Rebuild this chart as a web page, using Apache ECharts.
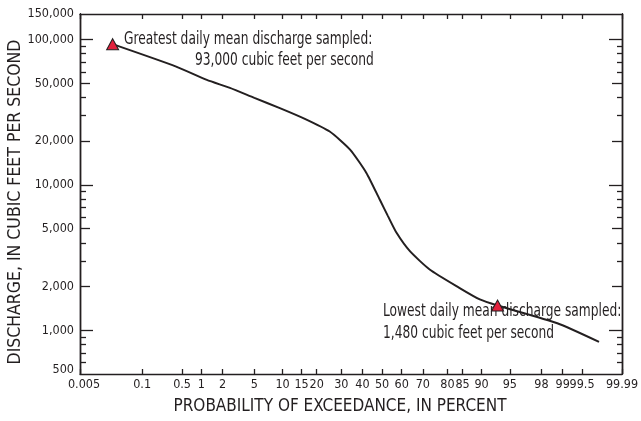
<!DOCTYPE html>
<html>
<head>
<meta charset="utf-8">
<script src="https://cdn.jsdelivr.net/npm/echarts@6/dist/echarts.min.js"></script>
<style>html,body{margin:0;padding:0;background:#fff;}#chart{width:641px;height:421px;}</style>
</head>
<body>
<div id="chart"></div>
<script>
// ---- data ----
const exceedancePct = [0.026, 0.40, 1.2, 2.5, 5, 9.4, 16, 25, 34, 42, 48.8, 52.9, 57.4, 64, 73, 84, 89.6, 93.15, 98.8, 99.74];
const dischargeCfs  = [93000, 65200, 52800, 46500, 39700, 33800, 28500, 23300, 17500, 12100, 7930, 6150, 4680, 3500, 2620, 1960, 1630, 1480, 1117, 831];
const extremePct = [0.026, 93.15];
const extremeCfs = [93000, 1480];

const xTickPct    = [0.005, 0.1, 0.5, 1, 2, 5, 10, 15, 20, 30, 40, 50, 60, 70, 80, 85, 90, 95, 98, 99, 99.5, 99.9];
const xTickLabels = ['0.005','0.1','0.5','1','2','5','10','15','20','30','40','50','60','70','80','85','90','95','98','99','99.5','99.99'];

const yLabelValues = [500, 1000, 2000, 5000, 10000, 20000, 50000, 100000, 150000];
const yDecadeTicks = [1000, 10000, 100000];
const yMidTicks    = [2000, 5000, 20000, 50000];
const yMinorTicks  = [600, 700, 800, 900, 3000, 4000, 6000, 7000, 8000, 9000, 30000, 40000, 60000, 70000, 80000, 90000];

// ---- scale transforms (normal-probability x, log10 y) ----
function normInv(p){
  const a=[-3.969683028665376e+01,2.209460984245205e+02,-2.759285104469687e+02,1.383577518672690e+02,-3.066479806614716e+01,2.506628277459239e+00];
  const b=[-5.447609879822406e+01,1.615858368580409e+02,-1.556989798598866e+02,6.680131188771972e+01,-1.328068155288572e+01];
  const c=[-7.784894002430293e-03,-3.223964580411365e-01,-2.400758277161838e+00,-2.549732539343734e+00,4.374664141464968e+00,2.938163982698783e+00];
  const d=[7.784695709041462e-03,3.224671290700398e-01,2.445134137142996e+00,3.754408661907416e+00];
  const pl=0.02425, ph=1-pl; let q,r;
  if(p<pl){q=Math.sqrt(-2*Math.log(p));return (((((c[0]*q+c[1])*q+c[2])*q+c[3])*q+c[4])*q+c[5])/((((d[0]*q+d[1])*q+d[2])*q+d[3])*q+1);}
  if(p<=ph){q=p-0.5;r=q*q;return (((((a[0]*r+a[1])*r+a[2])*r+a[3])*r+a[4])*r+a[5])*q/(((((b[0]*r+b[1])*r+b[2])*r+b[3])*r+b[4])*r+1);}
  q=Math.sqrt(-2*Math.log(1-p));return -(((((c[0]*q+c[1])*q+c[2])*q+c[3])*q+c[4])*q+c[5])/((((d[0]*q+d[1])*q+d[2])*q+d[3])*q+1);
}
const zx = pct => normInv(pct/100);
const ly = v => Math.log10(v);

const FONT = "'DejaVu Sans Condensed','Liberation Sans Narrow',sans-serif";
const INK = '#231f20';

const xMin = zx(xTickPct[0]);
const xMax = zx(xTickPct[xTickPct.length-1]);
const yMin = ly(yLabelValues[0]);
const yMax = ly(yLabelValues[yLabelValues.length-1]);

const xTickVals = xTickPct.map(zx);
function xLabel(v){
  let best=0, bd=Infinity;
  xTickVals.forEach((t,i)=>{const dd=Math.abs(t-v); if(dd<bd){bd=dd;best=i;}});
  return best === 0 ? '{first|' + xTickLabels[best] + '}' : xTickLabels[best];
}
function yLabel(v){
  let best=0, bd=Infinity;
  yLabelValues.forEach((t,i)=>{const dd=Math.abs(ly(t)-v); if(dd<bd){bd=dd;best=i;}});
  const s = yLabelValues[best].toLocaleString('en-US');
  return best === 0 ? '{first|' + s + '}' : s;
}

function xAxisDef(pos, labels){
  return {
    type:'value', position:pos, min:xMin, max:xMax,
    axisLine:{show:true, onZero:false, lineStyle:{color:INK, width:1.3}},
    axisTick:{show:true, inside:true, length:5, customValues:xTickVals, lineStyle:{color:INK, width:1.3}},
    axisLabel:labels ? {show:true, customValues:xTickVals, formatter:xLabel, margin:4, color:INK, fontFamily:FONT, fontSize:12.5,
      rich:{first:{fontFamily:FONT, fontSize:12.5, color:INK, padding:[0,0,0,8]}}} : {show:false},
    splitLine:{show:false},
    name: labels ? 'PROBABILITY OF EXCEEDANCE, IN PERCENT' : '',
    nameLocation:'middle', nameGap:24, nameMoveOverlap:false,
    nameTextStyle:{color:INK, fontFamily:FONT, fontSize:17, padding:[0,22,0,0]}
  };
}
function yAxisDef(pos, ticks, len, opts){
  opts = opts || {};
  return {
    type:'value', position:pos, min:yMin, max:yMax,
    axisLine:{show:true, onZero:false, lineStyle:{color:INK, width:1.3}},
    axisTick:{show:true, inside:true, length:len, customValues:ticks.map(ly), lineStyle:{color:INK, width:1.3}},
    axisLabel:opts.labels ? {show:true, customValues:yLabelValues.map(ly), formatter:yLabel, margin:6, color:INK, fontFamily:FONT, fontSize:12.5,
      rich:{first:{fontFamily:FONT, fontSize:12.5, color:INK, padding:[0,0,8,0]}}} : {show:false},
    splitLine:{show:false},
    name: opts.labels ? 'DISCHARGE, IN CUBIC FEET PER SECOND' : '',
    nameLocation:'middle', nameGap:56, nameRotate:90, nameMoveOverlap:false,
    nameTextStyle:{color:INK, fontFamily:FONT, fontSize:17.5, padding:[0,16,0,0]}
  };
}

const chart = echarts.init(document.getElementById('chart'), null, {renderer:'canvas'});
chart.setOption({
  animation:false,
  backgroundColor:'#fff',
  grid:{left:80, top:14, right:19, bottom:47, containLabel:false, outerBoundsMode:'none'},
  xAxis:[xAxisDef('bottom', true), xAxisDef('top', false)],
  yAxis:[
    yAxisDef('left', yDecadeTicks, 13, {labels:true}),
    yAxisDef('left', yMidTicks, 10),
    yAxisDef('left', yMinorTicks, 6),
    yAxisDef('right', yDecadeTicks, 13),
    yAxisDef('right', yMidTicks, 10),
    yAxisDef('right', yMinorTicks, 5)
  ],
  series:[
    {
      type:'line', xAxisIndex:0, yAxisIndex:0,
      data: exceedancePct.map((p,i)=>[zx(p), ly(dischargeCfs[i])]),
      showSymbol:false, smooth:0.2,
      lineStyle:{color:INK, width:2}, z:2
    },
    {
      type:'scatter', xAxisIndex:0, yAxisIndex:0,
      data: extremePct.map((p,i)=>[zx(p), ly(extremeCfs[i])]),
      symbol:'triangle', symbolSize:[12,11],
      itemStyle:{color:'#e2203c', borderColor:INK, borderWidth:1, opacity:1}, z:3
    }
  ],
  graphic:[
    {type:'text', x:124, y:31, scaleX:0.8, style:{text:'Greatest daily mean discharge sampled:', fill:INK, font:"17px "+FONT}},
    {type:'text', x:195, y:52, scaleX:0.8, style:{text:'93,000 cubic feet per second', fill:INK, font:"17px "+FONT}},
    {type:'text', x:383, y:303, scaleX:0.8, style:{text:'Lowest daily mean discharge sampled:', fill:INK, font:"17px "+FONT}},
    {type:'text', x:383, y:325, scaleX:0.8, style:{text:'1,480 cubic feet per second', fill:INK, font:"17px "+FONT}}
  ]
});
</script>
</body>
</html>
